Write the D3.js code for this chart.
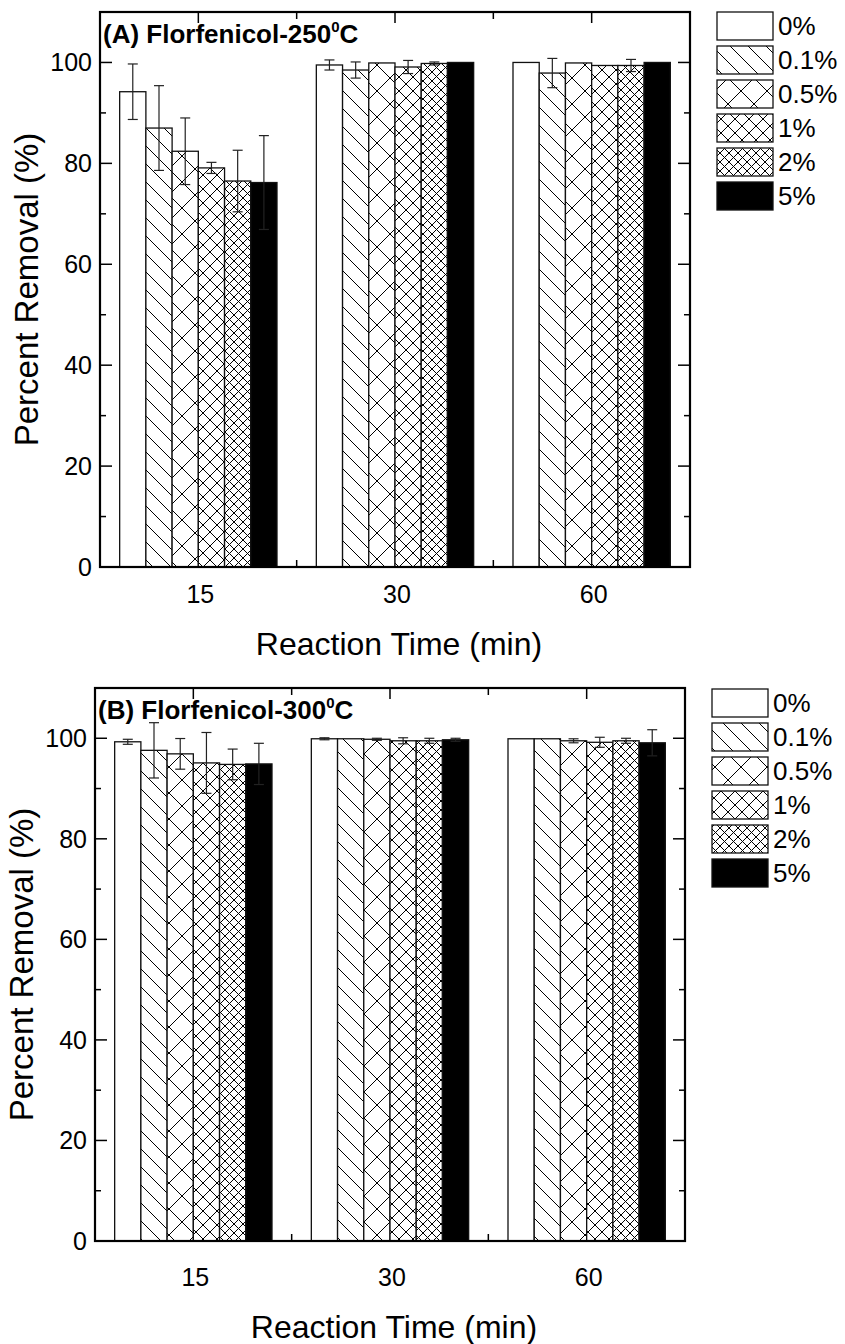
<!DOCTYPE html>
<html><head><meta charset="utf-8">
<script src="https://cdn.jsdelivr.net/npm/d3@7"></script>
<style>
html,body{margin:0;padding:0;background:#fff;}
svg{display:block;font-family:"Liberation Sans",Arial,Helvetica,sans-serif;}
</style></head>
<body>
<svg id="chart" width="845" height="1344"></svg>
<script>
// ---- data ----
const categories = ["15", "30", "60"];
const series = ["0%", "0.1%", "0.5%", "1%", "2%", "5%"];
const yTicks = [0, 20, 40, 60, 80, 100];
const xLabel = "Reaction Time (min)";
const yLabel = "Percent Removal (%)";
// Panel A: Florfenicol-250 °C (rows = reaction time, cols = series)
const valuesA = [
  [94.2, 87.0, 82.4, 79.1, 76.5, 76.2],
  [99.5, 98.5, 99.9, 99.1, 99.8, 100.0],
  [100.0, 97.9, 99.9, 99.4, 99.4, 100.0]
];
const errorsA = [
  [5.5, 8.4, 6.6, 1.1, 6.1, 9.3],
  [1.0, 1.6, 0, 1.3, 0.3, 0],
  [0, 2.9, 0, 0, 1.2, 0]
];
// Panel B: Florfenicol-300 °C
const valuesB = [
  [99.3, 97.6, 96.9, 95.1, 94.8, 94.9],
  [99.9, 99.9, 99.8, 99.5, 99.5, 99.7],
  [99.9, 99.9, 99.5, 99.2, 99.5, 99.1]
];
const errorsB = [
  [0.5, 5.5, 3.05, 6.05, 3.05, 4.1],
  [0.2, 0, 0.2, 0.6, 0.5, 0.3],
  [0, 0, 0.4, 1.0, 0.5, 2.6]
];

const svg = d3.select("#chart");
const FONT = '"Liberation Sans",Arial,Helvetica,sans-serif';

// ---- patterns ----
const defs = svg.append("defs");
function hatch(id, s, cross) {
  const p = defs.append("pattern").attr("id", id)
    .attr("patternUnits", "userSpaceOnUse").attr("width", s).attr("height", s);
  p.append("rect").attr("width", s).attr("height", s).attr("fill", "#fff");
  const g = p.append("g").attr("stroke", "#000").attr("stroke-width", 1);
  g.append("line").attr("x1", -1).attr("y1", -1).attr("x2", s + 1).attr("y2", s + 1);
  if (cross) {
    g.append("line").attr("x1", -1).attr("y1", s + 1).attr("x2", s + 1).attr("y2", -1);
  }
}
hatch("p01", 18, false);
hatch("p05", 26, true);
hatch("p1", 14, true);
hatch("p2", 9, true);
const fills = ["#fff", "url(#p01)", "url(#p05)", "url(#p1)", "url(#p2)", "#000"];

function panel(opt) {
  const {left, right, top, bottom, values, errors, title, letter, legendX, legendTop, tickOff, titleOff} = opt;
  const g = svg.append("g");
  const x = d3.scaleLinear().domain([0.5, 3.5]).range([left, right]);
  const y = d3.scaleLinear().domain([0, 110]).range([bottom, top]);
  const inner = d3.scaleBand().domain(series).range([-0.4, 0.4]);

  // ticks (inward) on all four sides
  const tk = g.append("g").attr("stroke", "#000").attr("stroke-width", 1.5);
  d3.range(0, 111, 10).forEach(v => {
    const len = v % 20 === 0 ? 12 : 6;
    tk.append("line").attr("x1", left).attr("x2", left + len).attr("y1", y(v)).attr("y2", y(v));
    tk.append("line").attr("x1", right).attr("x2", right - len).attr("y1", y(v)).attr("y2", y(v));
  });
  [1, 1.5, 2, 2.5, 3].forEach(v => {
    const len = Number.isInteger(v) ? 11 : 7;
    tk.append("line").attr("x1", x(v)).attr("x2", x(v)).attr("y1", top).attr("y2", top + len);
    tk.append("line").attr("x1", x(v)).attr("x2", x(v)).attr("y1", bottom).attr("y2", bottom - len);
  });

  // y tick labels
  g.append("g").selectAll("text").data(yTicks).join("text")
    .attr("x", left - 8).attr("y", d => y(d)).attr("dy", "0.36em")
    .attr("text-anchor", "end").attr("font-size", 25).attr("font-family", FONT)
    .text(d => d);
  // x tick labels
  g.append("g").selectAll("text").data(categories).join("text")
    .attr("x", (d, i) => x(i + 1) + 2).attr("y", bottom + tickOff).attr("dy", "0.36em")
    .attr("text-anchor", "middle").attr("font-size", 25).attr("font-family", FONT)
    .text(d => d);

  // bars
  const data = [];
  values.forEach((row, ci) => row.forEach((v, si) => data.push({ci, si, v, e: errors[ci][si]})));
  const bx = d => x(d.ci + 1 + inner(series[d.si]));
  const bw = x(1 + inner.bandwidth()) - x(1);
  g.append("g").selectAll("rect").data(data).join("rect")
    .attr("x", bx).attr("width", bw)
    .attr("y", d => y(d.v)).attr("height", d => y(0) - y(d.v))
    .attr("fill", d => fills[d.si]).attr("stroke", "#111").attr("stroke-width", 1.3);

  // error bars
  const eg = g.append("g").attr("stroke", "#222").attr("stroke-width", 1.2);
  data.filter(d => d.e > 0).forEach(d => {
    const cx = bx(d) + bw / 2;
    eg.append("line").attr("x1", cx).attr("x2", cx).attr("y1", y(d.v + d.e)).attr("y2", y(d.v - d.e));
    eg.append("line").attr("x1", cx - 5).attr("x2", cx + 5).attr("y1", y(d.v + d.e)).attr("y2", y(d.v + d.e));
    eg.append("line").attr("x1", cx - 5).attr("x2", cx + 5).attr("y1", y(d.v - d.e)).attr("y2", y(d.v - d.e));
  });

  // frame
  g.append("rect").attr("x", left).attr("y", top).attr("width", right - left).attr("height", bottom - top)
    .attr("fill", "none").attr("stroke", "#000").attr("stroke-width", 2.2);

  // panel title
  const t = g.append("text").attr("x", left + 3).attr("y", top + 31)
    .attr("font-size", 26).attr("font-weight", "bold").attr("font-family", FONT);
  t.append("tspan").text("(" + letter + ") " + title);
  t.append("tspan").attr("font-size", 15).attr("dy", -11).text("0");
  t.append("tspan").attr("dy", 11).text("C");

  // axis titles
  g.append("text").attr("x", (left + right) / 2 + 4).attr("y", bottom + titleOff).attr("dy", "0.36em")
    .attr("text-anchor", "middle").attr("font-size", 32).attr("font-family", FONT).text(xLabel);
  g.append("text").attr("transform", `translate(${left - 62},${(top + bottom) / 2}) rotate(-90)`)
    .attr("text-anchor", "middle").attr("font-size", 33).attr("font-family", FONT).text(yLabel);

  // legend
  const lg = g.append("g");
  series.forEach((s, i) => {
    const yy = legendTop + i * 34;
    lg.append("rect").attr("x", legendX).attr("y", yy).attr("width", 56).attr("height", 28)
      .attr("fill", fills[i]).attr("stroke", "#111").attr("stroke-width", 1.3);
    lg.append("text").attr("x", legendX + 61).attr("y", yy + 14).attr("dy", "0.36em")
      .attr("font-size", 26).attr("font-family", FONT).text(s);
  });
}

panel({left: 100, right: 690, top: 12, bottom: 567, values: valuesA, errors: errorsA,
       title: "Florfenicol-250", letter: "A", legendX: 717, legendTop: 12, tickOff: 27, titleOff: 76});
panel({left: 95, right: 685, top: 688, bottom: 1241, values: valuesB, errors: errorsB,
       title: "Florfenicol-300", letter: "B", legendX: 712, legendTop: 689, tickOff: 36, titleOff: 85});
</script>
</body></html>
